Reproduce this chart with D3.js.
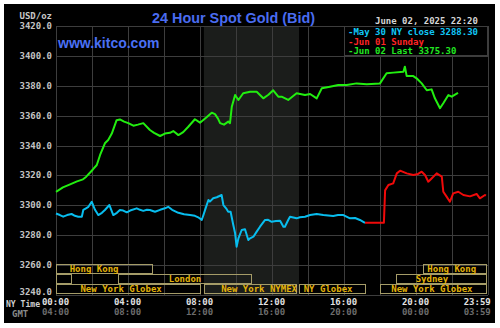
<!DOCTYPE html>
<html>
<head>
<meta charset="utf-8">
<script src="https://cdn.jsdelivr.net/npm/d3@7"></script>
<style>
  html, body { margin: 0; padding: 0; background: #fff; }
  svg { display: block; }
  .mono { font-family: "DejaVu Sans Mono", "Liberation Mono", monospace; font-weight: bold; font-size: 9px; }
</style>
</head>
<body>
<svg id="svg" width="500" height="328"></svg>
<script>
// minutes since 00:00 NY time, and bid price
const greenTime = [0, 23, 47, 70, 90, 100, 113, 123, 136, 147, 163, 174, 186, 202, 213, 227, 241, 258, 273, 291,
  313, 327, 347, 363, 380, 391, 408, 424, 441, 463, 480, 502, 519, 530, 540, 547, 560, 574, 580, 586,
  597, 608, 624, 647, 669, 691, 708, 724, 741, 752, 774, 802, 830, 847, 869, 886, 913, 941, 969, 1002,
  1036, 1080, 1102, 1124, 1158, 1163, 1169, 1191, 1202, 1219, 1236, 1252, 1263, 1280, 1291, 1308, 1319, 1340];
const greenValue = [3309, 3312, 3314, 3316, 3317.4, 3319, 3321.8, 3324, 3327, 3333.7, 3341.5, 3343.7, 3348, 3357, 3357.5, 3356, 3355, 3353.3, 3354, 3355,
  3350.4, 3348.5, 3346.4, 3348, 3348.5, 3349.7, 3347, 3349, 3352.6, 3357.6, 3355.3, 3359, 3362, 3361, 3358, 3355, 3354, 3356, 3355, 3366,
  3373.8, 3370.5, 3375, 3376, 3376, 3371.6, 3374, 3377, 3372.7, 3372.7, 3370.5, 3375, 3373.8, 3374.5, 3371.6, 3378.3, 3379.4, 3380.5, 3380.5, 3381.6,
  3381, 3381.6, 3388.4, 3388.8, 3389.4, 3392.8, 3386.5, 3386.5, 3385, 3381.6, 3377, 3377.6, 3371.6, 3365, 3368.3, 3373.8, 3372.7, 3375.3];

const cyanTime = [0, 13, 24, 37, 52, 63, 74, 86, 91, 100, 108, 119, 130, 141, 153, 163, 178, 191, 203, 213,
  224, 236, 247, 269, 280, 291, 303, 313, 330, 347, 363, 374, 387, 408, 427, 447, 463, 474, 486, 497,
  508, 513, 524, 536, 552, 558, 567, 574, 582, 591, 597, 602, 608, 619, 630, 641, 647, 658, 669, 680,
  697, 707, 719, 733, 747, 758, 763, 774, 780, 802, 813, 830, 847, 869, 891, 924, 940, 958, 980, 997, 1013, 1030];
const cyanValue = [3294.5, 3293.5, 3292.4, 3293.5, 3294.2, 3293, 3292.4, 3292.4, 3296.9, 3298, 3299, 3302.4, 3297, 3293.5, 3295, 3296.9, 3300.2, 3293.5, 3295, 3296.9,
  3296.5, 3295.3, 3296.5, 3298, 3297, 3296.3, 3297, 3296.9, 3295.7, 3297, 3298, 3299, 3297, 3295, 3294, 3293.5, 3293, 3292, 3290.2, 3297,
  3303.6, 3302.5, 3304.7, 3305.4, 3306.9, 3300.2, 3298, 3295.7, 3295.7, 3286.8, 3281.3, 3272.3, 3277.9, 3283.5, 3284, 3276.8, 3277.9, 3279, 3282.4, 3285.7,
  3290.2, 3290.3, 3289, 3289.5, 3289.7, 3285.7, 3285.7, 3290.2, 3292.4, 3291.3, 3292, 3292.4, 3293.5, 3294.2, 3293.5, 3292.9, 3293.5, 3293.5, 3291.3, 3291.5, 3290.2, 3288.3];

const redTime = [1030, 1093, 1097, 1108, 1124, 1136, 1147, 1169, 1191, 1207, 1219, 1230, 1241, 1252, 1269, 1286, 1291, 1302, 1313, 1324, 1341, 1358, 1380, 1402, 1413, 1430, 1433];
const redValue = [3288.3, 3288.3, 3310, 3313.6, 3314.7, 3321.4, 3323.2, 3321.4, 3320.3, 3321, 3322.5, 3320.3, 3315.8, 3318, 3321.4, 3319.2, 3309.1, 3305.8, 3302.4, 3308, 3309.1, 3306.9, 3306, 3307.6, 3304.7, 3306.9, 3306.5];

const legendLabels = ['-May 30 NY close 3288.30', '-Jun 01 Sunday', '-Jun 02 Last 3375.30'];

const yTicks = [3240, 3260, 3280, 3300, 3320, 3340, 3360, 3380, 3400, 3420];
const xTicks = [0, 240, 480, 720, 960, 1200, 1439];
const nyLabels = ['00:00', '04:00', '08:00', '12:00', '16:00', '20:00', '23:59'];
const gmtLabels = ['04:00', '08:00', '12:00', '16:00', '20:00', '00:00', '03:59'];

// market sessions: name, start, end (minutes), row, label centre (minutes)
const sessionName = ['Hong Kong', '', 'London', 'New York Globex', 'New York NYMEX', 'NY Globex', 'New York Globex', 'Sydney', 'Hong Kong'];
const sessionStart = [0, 0, 208, 0, 493, 811, 1080, 1135, 1224];
const sessionEnd = [327, 57, 657, 486, 807, 1036, 1440, 1440, 1440];
const sessionRow = [0, 1, 1, 2, 2, 2, 2, 1, 0];
const sessionLabelAt = [127, 0, 430, 217, 677, 907, 1253, 1253, 1319];

const comexOpen = 493, comexClose = 810;

window.onload = function() {
  const svg = d3.select('#svg');
  const x = d3.scaleLinear().domain([0, 1440]).range([56, 488]);
  const y = d3.scaleLinear().domain([3240, 3420]).range([295, 26]);

  svg.append('rect').attr('x', 4).attr('y', 4).attr('width', 491).attr('height', 319).attr('fill', '#000');

  // COMEX shading
  svg.append('rect')
    .attr('x', x(comexOpen)).attr('y', y(3420))
    .attr('width', x(comexClose) - x(comexOpen)).attr('height', y(3240) - y(3420))
    .attr('fill', '#1b1d1b');

  // grid
  const grid = svg.append('g').attr('shape-rendering', 'crispEdges').attr('stroke', '#3d3d3d').attr('stroke-width', 1);
  grid.selectAll('line.v').data(d3.range(0, 1441, 120)).enter().append('line')
    .attr('x1', d => Math.round(x(d)) + 0.5).attr('x2', d => Math.round(x(d)) + 0.5)
    .attr('y1', y(3420)).attr('y2', y(3240));
  grid.selectAll('line.h').data(yTicks).enter().append('line')
    .attr('x1', x(0)).attr('x2', x(1440))
    .attr('y1', d => Math.round(y(d)) + 0.5).attr('y2', d => Math.round(y(d)) + 0.5);

  // y axis labels
  const yAxis = d3.axisLeft(y).tickValues(yTicks).tickSize(0).tickPadding(4).tickFormat(d3.format('.1f'));
  svg.append('g').attr('transform', 'translate(56,0)').call(yAxis)
    .call(g => g.select('.domain').remove())
    .call(g => g.selectAll('text').attr('class', 'mono').attr('fill', '#c4c4c4').attr('dy', 0)
      .attr('y', d => d === 3240 ? -0.5 : 2.5));

  // x axis labels (NY and GMT)
  const nyAxis = d3.axisBottom(x).tickValues(xTicks).tickSize(0).tickPadding(0).tickFormat((d, i) => nyLabels[i]);
  svg.append('g').attr('transform', 'translate(-1,299)').call(nyAxis)
    .call(g => g.select('.domain').remove())
    .call(g => g.selectAll('text').attr('class', 'mono').attr('fill', '#e2e2e2'))
    .call(g => g.selectAll('.tick').filter(d => d === 1439).select('text').attr('x', -10));
  const gmtAxis = d3.axisBottom(x).tickValues(xTicks).tickSize(0).tickPadding(0).tickFormat((d, i) => gmtLabels[i]);
  svg.append('g').attr('transform', 'translate(-1,309)').call(gmtAxis)
    .call(g => g.select('.domain').remove())
    .call(g => g.selectAll('text').attr('class', 'mono').attr('fill', '#6c6c6c'))
    .call(g => g.selectAll('.tick').filter(d => d === 1439).select('text').attr('x', -10));
  svg.append('text').attr('class', 'mono').attr('x', 6).attr('y', 306.5).attr('fill', '#cfcfcf')
    .attr('textLength', 34).attr('lengthAdjust', 'spacingAndGlyphs').text('NY Time');
  svg.append('text').attr('class', 'mono').attr('x', 12).attr('y', 316.5).attr('fill', '#8a8a8a').text('GMT');

  // session boxes
  const rowTop = y(3260) - 1;
  const sess = svg.append('g');
  sessionName.forEach((name, i) => {
    const top = rowTop + sessionRow[i] * 10;
    sess.append('rect')
      .attr('x', Math.round(x(sessionStart[i])) + 0.5)
      .attr('y', Math.round(top) + 0.5)
      .attr('width', Math.round(x(sessionEnd[i])) - Math.round(x(sessionStart[i])) - 2)
      .attr('height', 9)
      .attr('fill', 'none').attr('stroke', '#a59c68').attr('stroke-width', 1)
      .attr('shape-rendering', 'crispEdges');
    if (name) {
      sess.append('text').attr('class', 'mono')
        .attr('x', x(sessionLabelAt[i])).attr('y', top + 8)
        .attr('text-anchor', 'middle').attr('fill', '#e3b20a').text(name);
    }
  });

  // price lines
  const line = d3.line().x(d => x(d[0])).y(d => y(d[1]));
  const drawSeries = function(t, v, colour) {
    svg.append('path').datum(t.map((d, i) => [d, v[i]]))
      .attr('d', line).attr('fill', 'none').attr('stroke', colour)
      .attr('stroke-width', 2).attr('stroke-linejoin', 'round');
  };
  drawSeries(cyanTime, cyanValue, '#08bdee');
  drawSeries(redTime, redValue, '#f00a0a');
  drawSeries(greenTime, greenValue, '#22ee10');

  // legend box
  svg.append('rect').attr('x', 344.5).attr('y', 26.5).attr('width', 143).attr('height', 29)
    .attr('fill', '#000').attr('stroke', '#3d3d3d').attr('shape-rendering', 'crispEdges');
  const legendColours = ['#10c8f8', '#ff2424', '#22e822'];
  legendLabels.forEach((t, i) => {
    svg.append('text').attr('class', 'mono').attr('x', 348).attr('y', 35 + i * 9.6)
      .attr('fill', legendColours[i]).text(t);
  });

  // headers
  svg.append('text').attr('class', 'mono').attr('x', 52).attr('y', 18.5).attr('text-anchor', 'end')
    .attr('fill', '#c8c8c8').text('USD/oz');
  svg.append('text').attr('class', 'mono').attr('x', 375).attr('y', 24)
    .attr('fill', '#d6d6d6').text('June 02, 2025 22:20');
  svg.append('text').attr('x', 152).attr('y', 22.5)
    .style('font-family', 'Liberation Sans, Arial, sans-serif').style('font-weight', 'bold').style('font-size', '14.4px')
    .attr('fill', '#4a6cf0').text('24 Hour Spot Gold (Bid)');
  svg.append('text').attr('x', 58).attr('y', 48)
    .style('font-family', 'Liberation Sans, Arial, sans-serif').style('font-weight', 'bold').style('font-size', '14px')
    .attr('fill', '#4a70f4').text('www.kitco.com');
};
</script>
</body>
</html>
